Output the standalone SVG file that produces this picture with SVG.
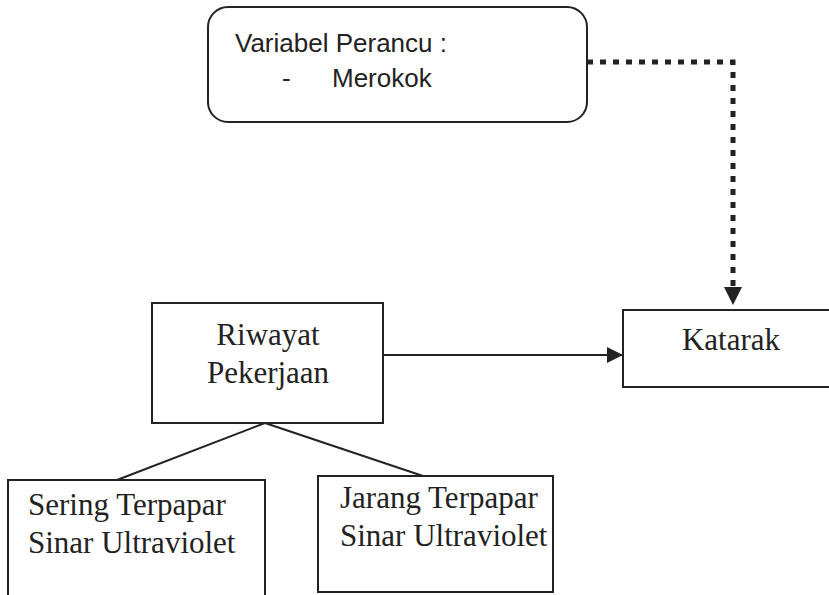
<svg xmlns="http://www.w3.org/2000/svg" width="829" height="595" viewBox="0 0 829 595">
<style>
.box{fill:#fff;stroke:#222;stroke-width:2}
.serif{font-family:"Liberation Serif","Times New Roman",serif;font-size:31px;fill:#222}
.sans{font-family:"Liberation Sans",Arial,sans-serif;font-size:26px;fill:#222}
.line{stroke:#222;stroke-width:2;fill:none}
.dot{stroke:#222;stroke-width:5;fill:none;stroke-dasharray:6 7}
</style>
<defs>
<marker id="ah" markerWidth="16" markerHeight="16" refX="15" refY="8" orient="auto" markerUnits="userSpaceOnUse">
<path d="M0,0 L16,8 L0,16 Z" fill="#222"/>
</marker>
</defs>
<rect width="829" height="595" fill="#fff"/>
<g id="connectors">
<path class="dot" d="M587,62 H733 V288"/>
<path d="M724,287 L742,287 L733,305 Z" fill="#222"/>
<line class="line" x1="383" y1="355" x2="622" y2="355" marker-end="url(#ah)"/>
<line class="line" x1="265" y1="423" x2="117" y2="480"/>
<line class="line" x1="265" y1="423" x2="423" y2="476"/>
</g>
<g id="perancu">
<rect class="box" x="208" y="7" width="379" height="115" rx="20"/>
<text class="sans" x="235" y="52">Variabel Perancu :</text>
<text class="sans" x="282" y="87">-</text>
<text class="sans" x="332" y="87">Merokok</text>
</g>
<g id="riwayat">
<rect class="box" x="152" y="303" width="231" height="120"/>
<text class="serif" x="268" y="345" text-anchor="middle">Riwayat</text>
<text class="serif" x="268" y="383" text-anchor="middle">Pekerjaan</text>
</g>
<g id="katarak">
<rect class="box" x="623" y="310" width="220" height="77"/>
<text class="serif" x="731" y="350" text-anchor="middle">Katarak</text>
</g>
<g id="sering">
<rect class="box" x="8" y="480" width="257" height="130"/>
<text class="serif" x="28" y="515">Sering Terpapar</text>
<text class="serif" x="28" y="553">Sinar Ultraviolet</text>
</g>
<g id="jarang">
<rect class="box" x="318" y="476" width="235" height="116"/>
<text class="serif" x="340" y="508">Jarang Terpapar</text>
<text class="serif" x="340" y="546">Sinar Ultraviolet</text>
</g>
</svg>
